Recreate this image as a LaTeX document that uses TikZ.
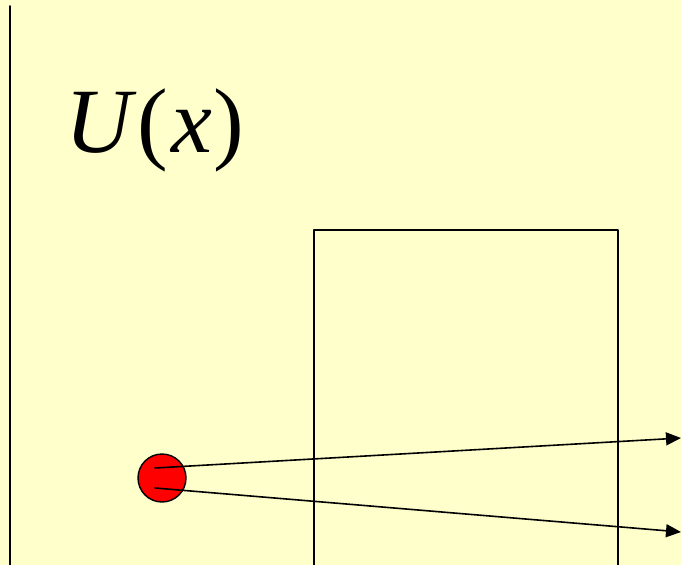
\documentclass[tikz,border=0pt]{standalone}
\usepackage{fontspec}
\setmainfont{Liberation Serif}
\usetikzlibrary{arrows.meta}
\definecolor{paper}{HTML}{FFFFCC}
\begin{document}
\begin{tikzpicture}[x=1pt,y=-1pt,line cap=round,line join=round,>={Triangle[length=15pt,width=13pt]}]
  \fill[paper] (0,0) rectangle (681,565);
  \useasboundingbox (0,0) rectangle (681,565);
  \draw[line width=1.6pt] (10,6) -- (10,565);
  \draw[line width=1.6pt] (314,565) -- (314,230) -- (618,230) -- (618,565);
  \node[anchor=base west,inner sep=0pt,font=\fontsize{92}{92}\selectfont] (label) at (65,152) {\textit{U}\kern1pt(\kern3pt\textit{x}\kern1pt)};
  \node[circle,draw,line width=1.4pt,fill=red,minimum size=48pt,inner sep=0pt] (ball) at (162,478) {};
  \coordinate (upper) at (681,438);
  \coordinate (lower) at (681,532);
  \draw[line width=1.6pt,->] (155,468) -- (upper);
  \draw[line width=1.6pt,->] (155,488) -- (lower);
\end{tikzpicture}
\end{document}
